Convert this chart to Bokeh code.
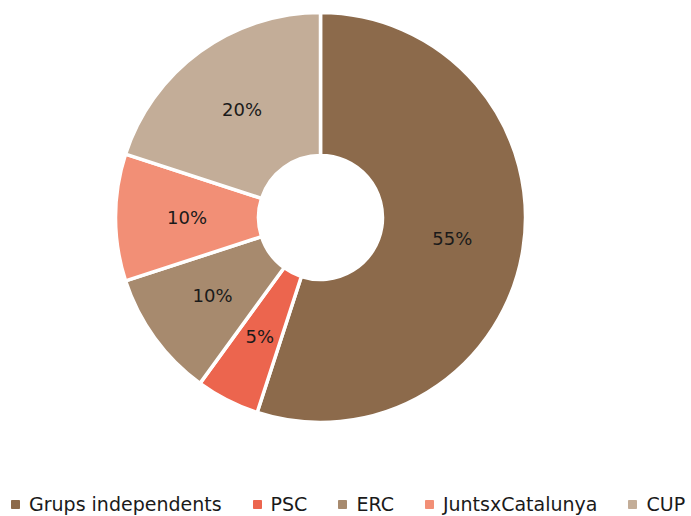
import math
from bokeh.plotting import figure
from bokeh.models import Range1d, ColumnDataSource, Legend, LegendItem
from bokeh.core.properties import value
from bokeh.embed import file_html
from bokeh.resources import INLINE

# ---- data ----
parties = ["Grups independents", "PSC", "ERC", "JuntsxCatalunya", "CUP"]
shares = [55, 5, 10, 10, 20]
colors = ["#8C6A4B", "#EC654E", "#A78A6E", "#F28F76", "#C3AD98"]

W, H = 691, 516
FONT = "DejaVu Sans"

p = figure(width=W, height=H, output_backend="svg", toolbar_location=None,
           x_range=Range1d(0, W), y_range=Range1d(0, H),
           x_axis_type=None, y_axis_type=None, min_border=0,
           background_fill_color="white", border_fill_color="white")
p.grid.visible = False
p.outline_line_color = None

cx, cy = 320, 299
r_in, r_out = 62, 205

total = sum(shares)
starts, ends, mids = [], [], []
a = math.pi / 2
for s in shares:
    e = a - s / total * 2 * math.pi
    starts.append(a)
    ends.append(e)
    mids.append((a + e) / 2)
    a = e

r_lab = (r_in + r_out) / 2
src = ColumnDataSource(dict(
    start=starts, end=ends, color=colors,
    lx=[cx + r_lab * math.cos(m) for m in mids],
    ly=[cy + r_lab * math.sin(m) for m in mids],
    lab=[f"{s}%" for s in shares],
))

p.annular_wedge(x=cx, y=cy, inner_radius=r_in, outer_radius=r_out,
                start_angle="start", end_angle="end", direction="clock",
                fill_color="color", line_color="white", line_width=3.5, source=src)

p.text(x="lx", y="ly", text="lab", source=src, text_align="center",
       text_baseline="middle", text_font=value(FONT), text_font_size="18px",
       text_color="#1a1a1a")

items = []
nan = float("nan")
for name, c in zip(parties, colors):
    r = p.scatter(x=[nan], y=[nan], marker="square", size=8,
                  fill_color=c, line_color=c)
    items.append(LegendItem(label=name, renderers=[r]))

leg = Legend(items=items, orientation="horizontal", location=(5, 1),
             border_line_color=None, background_fill_alpha=0,
             label_text_font=FONT, label_text_font_size="19px",
             label_text_color="#1a1a1a",
             glyph_width=20, glyph_height=20, label_height=20,
             label_standoff=4, spacing=25, padding=0, margin=0)
p.add_layout(leg)

open("out.html", "w").write(file_html(p, INLINE))
